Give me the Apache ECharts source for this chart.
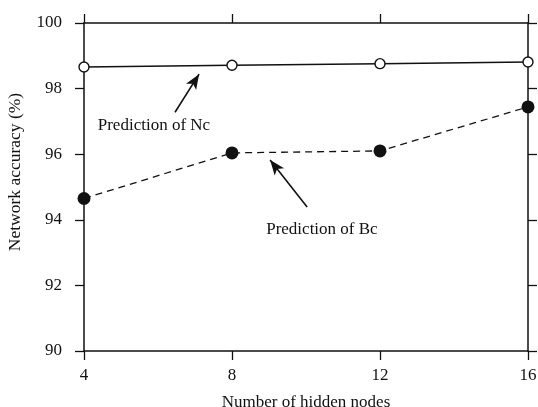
<!DOCTYPE html>
<html>
<head>
<meta charset="utf-8">
<script src="https://cdn.jsdelivr.net/npm/echarts@6/dist/echarts.min.js"></script>
<style>
  html, body { margin: 0; padding: 0; background: #fff; }
  #chart { width: 538px; height: 407px; }
</style>
</head>
<body>
<div id="chart"></div>
<script>
// Hidden-node counts and network accuracy (%) for the two predicted quantities
const hiddenNodes = [4, 8, 12, 16];
const accuracyNc = [98.66, 98.71, 98.76, 98.81];
const accuracyBc = [94.65, 96.04, 96.10, 97.44];
const xTicks = [4, 8, 12, 16];
const yTicks = [90, 92, 94, 96, 98, 100];

const FONT = "'Liberation Serif', 'Times New Roman', serif";
const INK = '#111';

const pairs = (xs, ys) => xs.map((x, i) => [x, ys[i]]);

const arrowLine = (from, to) => ({
  silent: true,
  symbol: ['none', 'arrow'],
  symbolSize: [9, 15],
  lineStyle: { color: INK, width: 1.6, type: 'solid' },
  label: { show: false },
  emphasis: { disabled: true },
  data: [[{ coord: from }, { coord: to }]]
});

const textMark = (at, text) => ({
  silent: true,
  symbol: 'circle',
  symbolSize: 0,
  label: {
    show: true, position: 'inside', formatter: text,
    color: INK, fontFamily: FONT, fontSize: 17
  },
  data: [{ coord: at }]
});

const frameAxis = {
  axisLine: { show: true, lineStyle: { color: INK, width: 1.5 } },
  axisTick: { show: true, inside: false, length: 9, lineStyle: { color: INK, width: 1.3 } },
  splitLine: { show: false }
};

const chart = echarts.init(document.getElementById('chart'), null, { renderer: 'canvas' });

chart.setOption({
  animation: false,
  backgroundColor: '#fff',
  grid: { left: 84, right: 10, top: 23, bottom: 56, containLabel: false, outerBoundsMode: 'none' },
  xAxis: [
    Object.assign({
      type: 'value', position: 'bottom',
      min: xTicks[0], max: xTicks[xTicks.length - 1], interval: 4,
      name: 'Number of hidden nodes', nameLocation: 'middle', nameGap: 43,
      nameTextStyle: { color: INK, fontFamily: FONT, fontSize: 17 },
      axisLabel: { color: INK, fontFamily: FONT, fontSize: 17, margin: 16 }
    }, frameAxis),
    Object.assign({
      type: 'value', position: 'top',
      min: xTicks[0], max: xTicks[xTicks.length - 1], interval: 4,
      axisLabel: { show: false }
    }, frameAxis)
  ],
  yAxis: [
    Object.assign({
      type: 'value', position: 'left',
      min: yTicks[0], max: yTicks[yTicks.length - 1], interval: 2,
      name: 'Network accuracy (%)', nameLocation: 'middle', nameGap: 60,
      nameTextStyle: { color: INK, fontFamily: FONT, fontSize: 17.5, padding: [0, 0, 0, 30] },
      axisLabel: { color: INK, fontFamily: FONT, fontSize: 17, margin: 22 }
    }, frameAxis),
    Object.assign({
      type: 'value', position: 'right',
      min: yTicks[0], max: yTicks[yTicks.length - 1], interval: 2,
      axisLabel: { show: false }
    }, frameAxis)
  ],
  series: [
    {
      name: 'Prediction of Nc',
      type: 'line',
      data: pairs(hiddenNodes, accuracyNc),
      symbol: 'circle',
      symbolSize: 10,
      itemStyle: { color: '#fff', borderColor: INK, borderWidth: 1.4 },
      lineStyle: { color: INK, width: 1.5, type: 'solid' },
      z: 3,
      markLine: arrowLine([6.46, 97.28], [7.11, 98.44]),
      markPoint: textMark([5.89, 96.86], 'Prediction of Nc')
    },
    {
      name: 'Prediction of Bc',
      type: 'line',
      data: pairs(hiddenNodes, accuracyBc),
      symbol: 'circle',
      symbolSize: 13,
      itemStyle: { color: INK, borderColor: INK, borderWidth: 0 },
      lineStyle: { color: INK, width: 1.3, type: [7, 5] },
      z: 3,
      markLine: arrowLine([10.03, 94.39], [9.03, 95.82]),
      markPoint: textMark([10.43, 93.69], 'Prediction of Bc')
    }
  ]
});
</script>
</body>
</html>
